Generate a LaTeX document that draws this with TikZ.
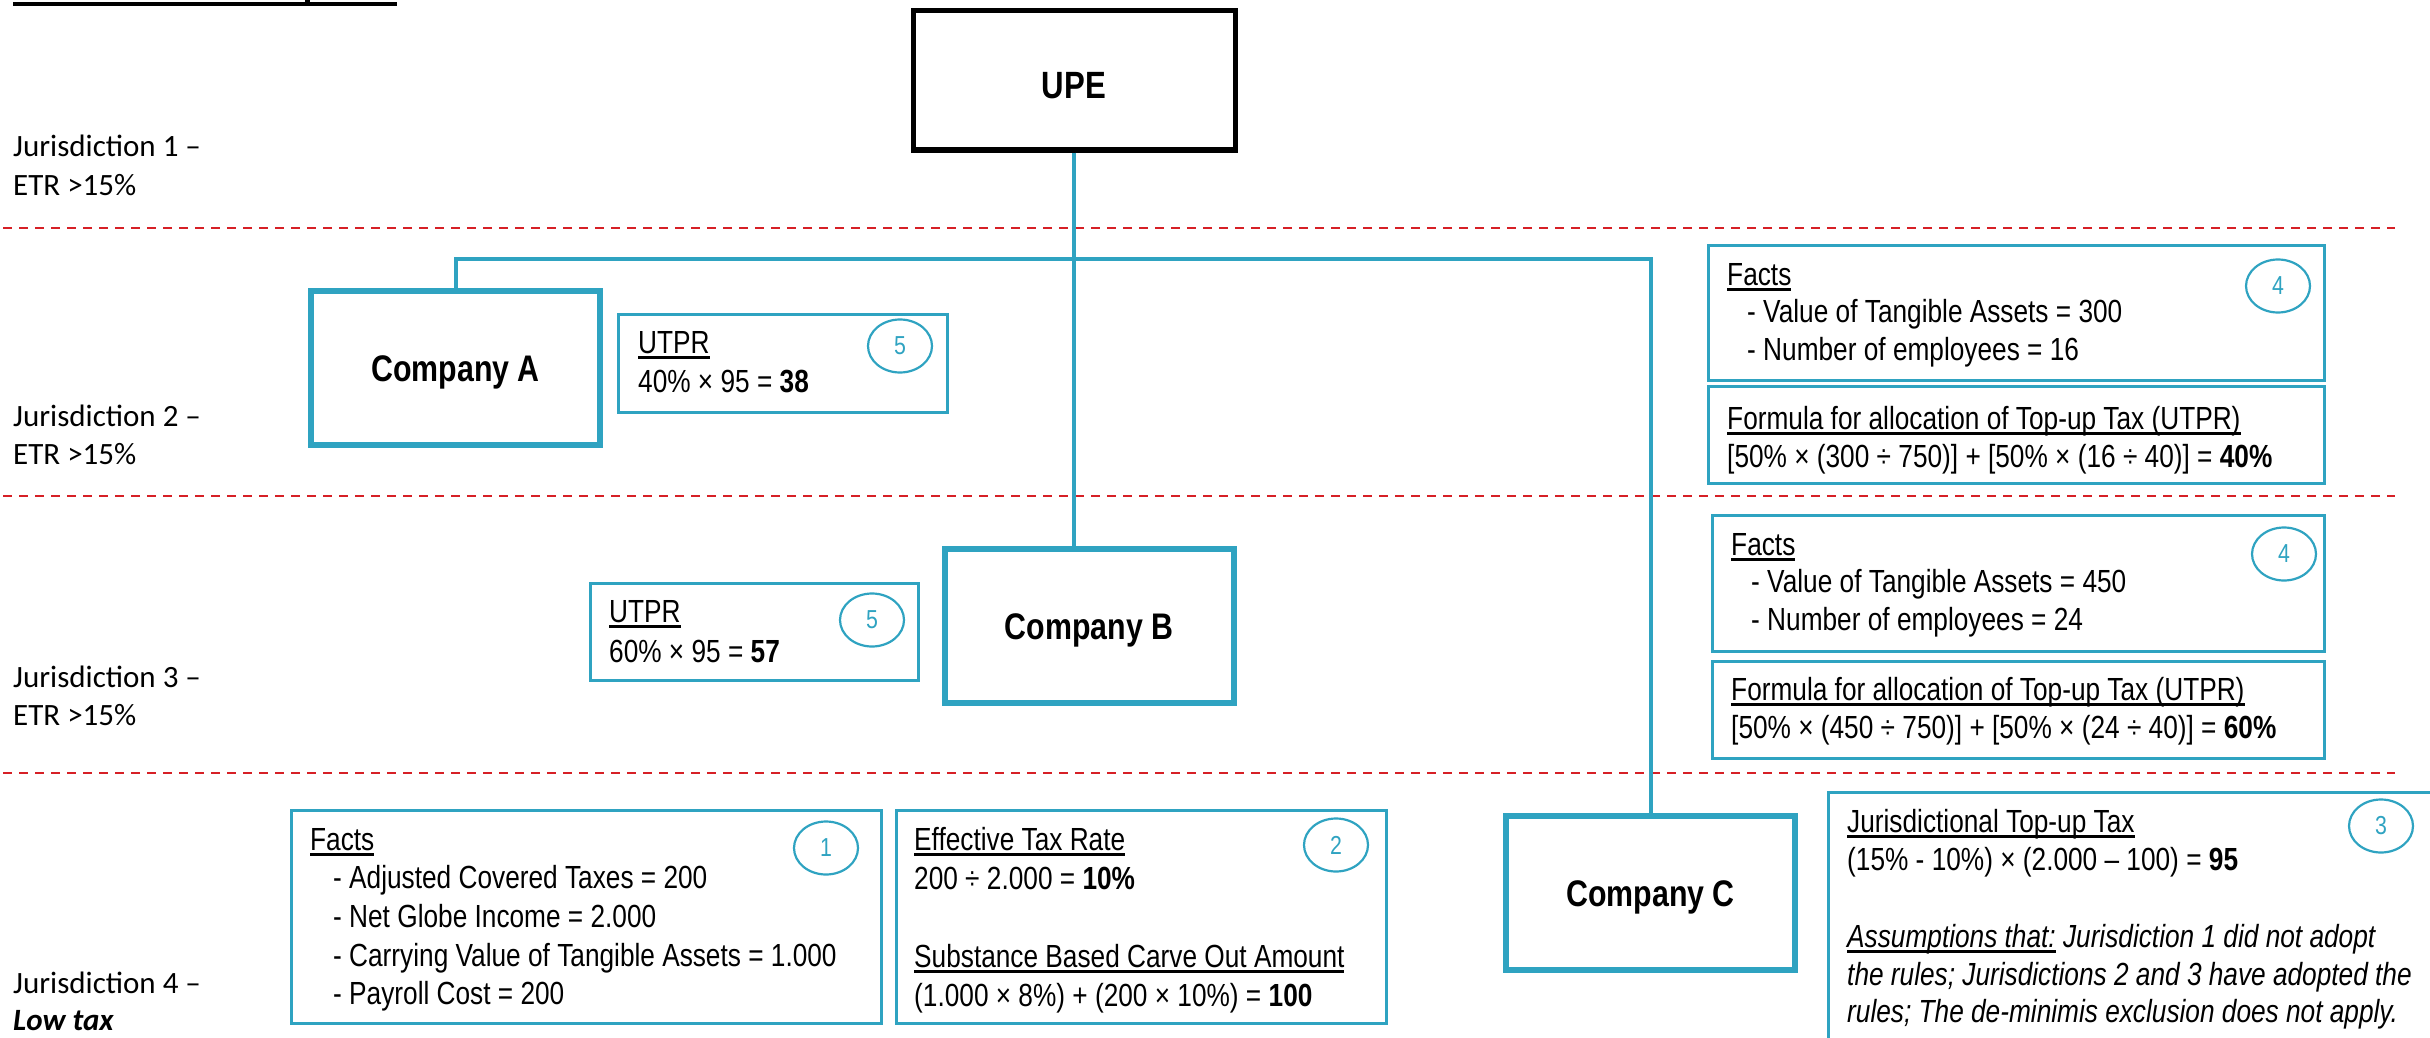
\documentclass[tikz,border=0pt]{standalone}
\usepackage{fontspec}
\usetikzlibrary{shapes.geometric}

% Fonts: Calibri-like labels, narrow Arial-like box text
\newfontfamily\calib{Carlito}
\newfontfamily\narrow[FakeStretch=0.82]{Liberation Sans}

\definecolor{tealline}{RGB}{47,163,193}
\definecolor{sepred}{RGB}{214,32,38}

% thick underline for headings
\newcommand\ulx[1]{\setbox0=\hbox{#1}\rlap{\rule[-6pt]{\wd0}{2.6pt}}\box0\relax}

\tikzset{
  infobox/.style={draw=tealline, line width=2.6pt, anchor=north west, inner sep=0pt},
  company/.style={draw=tealline, line width=6pt, inner sep=0pt,
    minimum width=289pt, minimum height=154pt,
    text height=26.5pt, text depth=0pt,
    font=\narrow\bfseries\fontsize{37}{37}\selectfont},
  upebox/.style={draw=black, line width=5pt, inner sep=0pt,
    minimum width=322pt, minimum height=139pt,
    text height=37pt, text depth=0pt,
    font=\narrow\bfseries\fontsize{38}{38}\selectfont},
  conn/.style={draw=tealline, line width=4pt},
  sepline/.style={draw=sepred, line width=2.5pt, dash pattern=on 9pt off 7pt},
  txt/.style={anchor=base west, inner sep=0pt, font=\narrow\fontsize{32}{39}\selectfont},
  jur/.style={anchor=base west, inner sep=0pt, font=\calib\fontsize{31}{38}\selectfont},
  numc/.style={draw=tealline, line width=2.2pt, ellipse, minimum width=64pt,
    minimum height=53pt, inner sep=0pt, text=tealline,
    font=\narrow\fontsize{26}{26}\selectfont},
}

\begin{document}
\begin{tikzpicture}[x=1pt, y=-1pt]
\useasboundingbox (0,0) rectangle (2430,1038);
\clip (0,0) rectangle (2430,1038);

% title rule at the top edge
\draw[line width=4pt] (13,4.5) -- (397,4.5);
\draw[line width=5pt] (307,0) -- (307,4);

% jurisdiction separators
\draw[sepline] (3,228) -- (2395,228);
\draw[sepline] (3,496) -- (2395,496);
\draw[sepline] (3,773) -- (2395,773);

% jurisdiction labels
\node[jur] (j1a) at (13,157) {Jurisdiction 1 –};
\node[jur] (j1b) at (13,195) {ETR >15\%};
\node[jur] (j2a) at (13,426) {Jurisdiction 2 –};
\node[jur] (j2b) at (13,464) {ETR >15\%};
\node[jur] (j3a) at (13,687) {Jurisdiction 3 –};
\node[jur] (j3b) at (13,725) {ETR >15\%};
\node[jur] (j4a) at (13,993) {Jurisdiction 4 –};
\node[jur] (j4b) at (13,1030) {\textbf{\textit{Low tax}}};

% entities
\node[upebox] (upe) at (1074,80.5) {UPE};
\node[company] (ca) at (455.5,368) {Company A};
\node[company] (cb) at (1089,626) {Company B};
\node[company] (cc) at (1650.5,893) {Company C};

% ownership lines
\coordinate (bus) at (1074,259);
\draw[conn] (upe.south) -- (upe.south |- cb.north);
\draw[conn] (ca.north) |- (bus) -| (cc.north);

% UTPR of Company A
\node[infobox, minimum width=329pt, minimum height=98pt] (utpra) at (617,313) {};
\node[txt] (utpra1) at (638,353) {\ulx{UTPR}};
\node[txt] (utpra2) at (638,392) {40\% × 95 = \textbf{38}};
\node[numc] (na) at (900,346) {5};

% UTPR of Company B
\node[infobox, minimum width=328pt, minimum height=97pt] (utprb) at (589,582) {};
\node[txt] (utprb1) at (609,622) {\ulx{UTPR}};
\node[txt] (utprb2) at (609,662) {60\% × 95 = \textbf{57}};
\node[numc] (nb) at (872,620) {5};

% Jurisdiction 2 facts and allocation
\node[infobox, minimum width=616pt, minimum height=135pt] (f2) at (1707,244) {};
\node[txt] (f2a) at (1727,285) {\ulx{Facts}};
\node[txt] (f2b) at (1747,322) {- Value of Tangible Assets = 300};
\node[txt] (f2c) at (1747,360) {- Number of employees = 16};
\node[numc] (n2) at (2278,286) {4};

\node[infobox, minimum width=616pt, minimum height=97pt] (g2) at (1707,385) {};
\node[txt] (g2a) at (1727,429) {\ulx{Formula for allocation of Top-up Tax (UTPR)}};
\node[txt] (g2b) at (1727,467) {[50\% × (300 ÷ 750)] + [50\% × (16 ÷ 40)] = \textbf{40\%}};

% Jurisdiction 3 facts and allocation
\node[infobox, minimum width=612pt, minimum height=136pt] (f3) at (1711,514) {};
\node[txt] (f3a) at (1731,555) {\ulx{Facts}};
\node[txt] (f3b) at (1751,592) {- Value of Tangible Assets = 450};
\node[txt] (f3c) at (1751,630) {- Number of employees = 24};
\node[numc] (n3) at (2284,554) {4};

\node[infobox, minimum width=612pt, minimum height=97pt] (g3) at (1711,660) {};
\node[txt] (g3a) at (1731,700) {\ulx{Formula for allocation of Top-up Tax (UTPR)}};
\node[txt] (g3b) at (1731,738) {[50\% × (450 ÷ 750)] + [50\% × (24 ÷ 40)] = \textbf{60\%}};

% Jurisdiction 4 facts
\node[infobox, minimum width=590pt, minimum height=213pt] (f4) at (290,809) {};
\node[txt] (f4a) at (310,850) {\ulx{Facts}};
\node[txt] (f4b) at (333,888) {- Adjusted Covered Taxes = 200};
\node[txt] (f4c) at (333,927) {- Net Globe Income = 2.000};
\node[txt] (f4d) at (333,966) {- Carrying Value of Tangible Assets = 1.000};
\node[txt] (f4e) at (333,1004) {- Payroll Cost = 200};
\node[numc] (n41) at (826,848) {1};

% effective tax rate and carve-out
\node[infobox, minimum width=490pt, minimum height=213pt] (etr) at (895,809) {};
\node[txt] (etra) at (914,850) {\ulx{Effective Tax Rate}};
\node[txt] (etrb) at (914,889) {200 ÷ 2.000 = \textbf{10\%}};
\node[txt] (etrc) at (914,967) {\ulx{Substance Based Carve Out Amount}};
\node[txt] (etrd) at (914,1006) {(1.000 × 8\%) + (200 × 10\%) = \textbf{100}};
\node[numc] (n42) at (1336,845) {2};

% jurisdictional top-up tax
\node[infobox, minimum width=700pt, minimum height=300pt] (jtt) at (1827,791) {};
\node[txt] (jtta) at (1847,832) {\ulx{Jurisdictional Top-up Tax}};
\node[txt] (jttb) at (1847,870) {(15\% - 10\%) × (2.000 – 100) = \textbf{95}};
\node[txt] (jttc) at (1847,947) {\itshape\ulx{Assumptions that:} Jurisdiction 1 did not adopt};
\node[txt] (jttd) at (1847,985) {\itshape the rules; Jurisdictions 2 and 3 have adopted the};
\node[txt] (jtte) at (1847,1022) {\itshape rules; The de-minimis exclusion does not apply.};
\node[numc] (n43) at (2381,826) {3};
\end{tikzpicture}
\end{document}
